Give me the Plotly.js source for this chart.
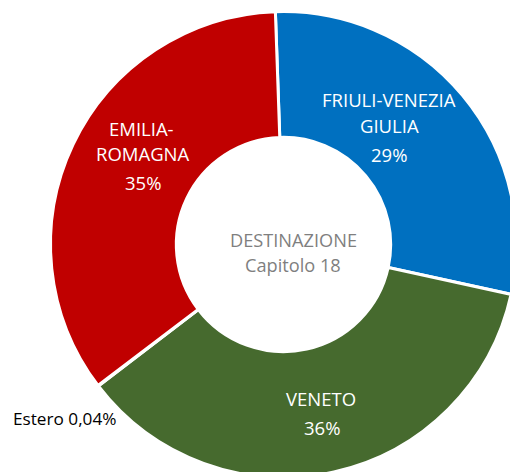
<!DOCTYPE html>
<html>
<head>
<meta charset="utf-8">
<script src="https://cdn.plot.ly/plotly-3.0.1.min.js"></script>
<style>
html,body{margin:0;padding:0;overflow:hidden;background:#fff;width:510px;height:472px;}
#chart{width:600px;height:600px;}
</style>
</head>
<body>
<div id="chart"></div>
<script>
// Data
const regions = ["FRIULI-VENEZIA GIULIA", "VENETO", "Estero", "EMILIA-ROMAGNA"];
const shares = [29.0, 36.2, 0.04, 34.8];
const shareLabels = ["29%", "36%", "0,04%", "35%"];
const nameLines = [["FRIULI-VENEZIA", "GIULIA"], ["VENETO"], ["Estero"], ["EMILIA-", "ROMAGNA"]];
const colors = ["#0070C0", "#466A2E", "#7F7F7F", "#C00000"];
const centerTitle = ["DESTINAZIONE", "Capitolo 18"];

const W = 600, H = 600;
const cx = 283.5, cy = 244.5, R = 233;
const px = x => x / W;
const py = y => 1 - y / H;

const font = "Open Sans, Noto Sans, sans-serif";

const trace = {
  type: "pie",
  labels: regions,
  values: shares,
  sort: false,
  direction: "clockwise",
  rotation: -2,
  hole: 0.46,
  textinfo: "none",
  hoverinfo: "label+percent",
  marker: {colors: colors, line: {color: "#ffffff", width: 3}},
  domain: {x: [px(cx - R), px(cx + R)], y: [py(cy + R), py(cy - R)]},
  showlegend: false
};

function ann(text, x, y, opts) {
  return Object.assign({
    text: text, x: px(x), y: py(y), xref: "paper", yref: "paper",
    showarrow: false, xanchor: "center", yanchor: "middle",
    font: {family: font, size: 18.5, color: "#ffffff"}
  }, opts || {});
}

const annotations = [
  // Friuli
  ann(nameLines[0][0], 389, 100),
  ann(nameLines[0][1], 389, 126),
  ann(shareLabels[0], 389, 155),
  // Emilia
  ann(nameLines[3][0], 141, 128),
  ann(nameLines[3][1], 143, 154),
  ann(shareLabels[3], 143, 182),
  // Veneto
  ann(nameLines[1][0], 321, 398),
  ann(shareLabels[1], 322, 427),
  // Estero (outside)
  ann(nameLines[2][0] + " " + shareLabels[2], 11, 418, {xanchor: "left", font: {family: font, size: 17.2, color: "#000000"}}),
  // Center
  ann(centerTitle[0], 293, 240, {font: {family: font, size: 18.2, color: "#7F7F7F"}}),
  ann(centerTitle[1], 293, 265, {font: {family: font, size: 18.2, color: "#7F7F7F"}})
];

Plotly.newPlot("chart", [trace], {
  width: W, height: H,
  margin: {l: 0, r: 0, t: 0, b: 0},
  paper_bgcolor: "#ffffff",
  annotations: annotations
}, {displayModeBar: false, staticPlot: true});
</script>
</body>
</html>
